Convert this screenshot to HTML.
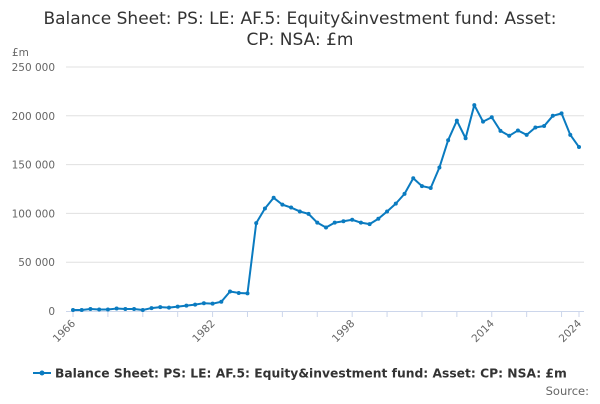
<!DOCTYPE html>
<html><head><meta charset="utf-8"><style>
body{margin:0;width:600px;height:400px;background:#fff;font-family:"DejaVu Sans",sans-serif;overflow:hidden}
</style></head><body>
<svg id="c" width="600" height="400" font-family="DejaVu Sans, sans-serif">
<text x="300" y="24" text-anchor="middle" font-size="17" fill="#333">Balance Sheet: PS: LE: AF.5: Equity&amp;investment fund: Asset:</text>
<text x="300" y="45" text-anchor="middle" font-size="17" fill="#333">CP: NSA: £m</text>
<text x="12" y="56" font-size="10.5" fill="#666">£m</text>
<g id="grid"></g><g id="xax"></g><g id="series"></g>
<g>
<line x1="33" y1="373" x2="51" y2="373" stroke="#0a7bc0" stroke-width="2"/>
<circle cx="42" cy="373" r="2.5" fill="#0a7bc0"/>
<text x="55" y="377.5" font-size="12.3" font-weight="bold" fill="#333">Balance Sheet: PS: LE: AF.5: Equity&amp;investment fund: Asset: CP: NSA: £m</text>
</g>
<text x="589" y="395" text-anchor="end" font-size="11.5" fill="#666">Source:</text>
</svg>
<script>
const years=[];for(let y=1966;y<=2024;y++)years.push(y);
const values=[1000,1000,2000,1500,1500,2500,2000,2000,1000,3000,4000,3500,4500,5500,6500,8000,7500,9500,20000,18500,18000,90000,105000,116000,109000,106000,102000,99500,90500,85500,90500,92000,93500,90500,89000,94500,102000,110000,120000,136000,128000,126000,147000,175000,195000,177000,211000,194000,198500,184500,179500,185000,180500,188000,189500,200000,202500,180500,168000];
const yTicks=[0,50000,100000,150000,200000,250000];
const yTickLabels=["0","50 000","100 000","150 000","200 000","250 000"];
const xLabels=[1966,1982,1998,2014,2024];
const NS="http://www.w3.org/2000/svg";
const X=y=>73+(y-1966)*(579-73)/(2024-1966);
const Y=v=>311-v*(311-67)/250000;
function el(t,a,p){const e=document.createElementNS(NS,t);for(const k in a)e.setAttribute(k,a[k]);p.appendChild(e);return e;}
const grid=document.getElementById('grid');
yTicks.forEach((v,i)=>{
 if(v>0){const l=el('line',{x1:66,x2:584,y1:Y(v),y2:Y(v),stroke:'#e0e0e0','stroke-width':1},grid);
 
 }
 const t=el('text',{x:55,y:Y(v)+4,'text-anchor':'end','font-size':10.5,fill:'#666'},grid);
 t.textContent=yTickLabels[i];
 
 
});
const xa=document.getElementById('xax');
const ax=el('line',{x1:66,x2:584,y1:311.5,y2:311.5,stroke:'#ccd6eb'},xa);


const tickYears=[];for(let y=1966;y<=2022;y+=4)tickYears.push(y);tickYears.push(2024);
tickYears.forEach(y=>{const t=el('line',{x1:X(y),x2:X(y),y1:311,y2:317,stroke:'#ccd6eb'},xa);
 
 });
xLabels.forEach(y=>{const t=el('text',{x:X(y)+3,y:324,'text-anchor':'end','font-size':10.5,fill:'#666',transform:`rotate(-45 ${X(y)+3} 324)`},xa);
 t.textContent=y;
 
 });
const s=document.getElementById('series');
const p=el('polyline',{points:values.map((v,i)=>X(years[i])+','+Y(v)).join(' '),fill:'none',stroke:'#0a7bc0','stroke-width':2,'stroke-linejoin':'round'},s);


values.forEach((v,i)=>{const c=el('circle',{cx:X(years[i]),cy:Y(v),r:2,fill:'#0a7bc0'},s);
 
 });
</script>
</body></html>
